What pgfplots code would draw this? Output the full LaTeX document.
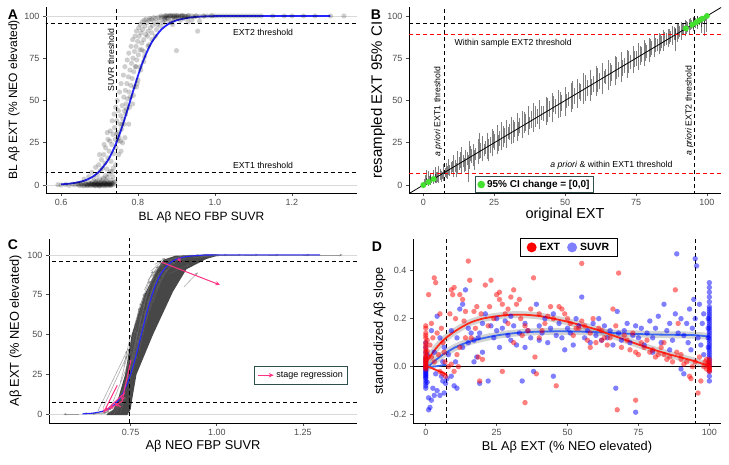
\documentclass[border=0pt]{standalone}
\usepackage{pgfplots}
\pgfplotsset{compat=1.18}
\usepackage{fontspec}
\setmainfont{Liberation Sans}
\usetikzlibrary{arrows.meta}
\definecolor{tickgray}{HTML}{4D4D4D}
\definecolor{pinkc}{HTML}{FF3384}
\definecolor{greenc}{HTML}{44E030}
\definecolor{slate}{HTML}{2F4F4F}
\definecolor{ggblue}{HTML}{2626FF}
\definecolor{dblue}{HTML}{3A66F0}
\definecolor{dred}{HTML}{FF2A1A}
\tikzset{
  dashl/.style={black, line width=0.8pt, dash pattern=on 4pt off 3pt},
  ann/.style={font=\fontsize{8.7}{10}\selectfont},
}
\pgfplotsset{
  gg/.style={
    scale only axis, anchor=south west,
    axis lines*=left,
    axis line style={black, line width=0.8pt},
    tick align=outside, major tick length=3pt,
    every tick/.style={tickgray, line width=0.6pt},
    tick label style={font=\fontsize{9}{10}\selectfont, text=tickgray},
    /pgf/number format/assume math mode=true,
    xlabel style={at={([yshift=-24pt]axis description cs:0.5,0)}, anchor=center},
    ylabel style={at={([xshift=-32pt]axis description cs:0,0.5)}, anchor=center},
  },
}
\begin{document}
\begin{tikzpicture}
\useasboundingbox (0,0) rectangle (729pt,464pt);
% ---------------- Panel A ----------------
\begin{axis}[gg, at={(46pt,271pt)}, width=311pt, height=186pt,
  xmin=0.561, xmax=1.369, ymin=-4.7, ymax=105.3,
  xtick={0.6,0.8,1.0,1.2}, xticklabels={0.6,0.8,1.0,1.2},
  ytick={0,25,50,75,100}, yticklabels={0,25,50,75,100},
  label style={font=\fontsize{12}{14}\selectfont},
  xlabel={BL Aβ NEO FBP SUVR}, ylabel={BL Aβ EXT (\% NEO elevated)}]
\addplot[gray!30, line width=0.6pt] coordinates {(0.5,0) (1.4,0)};
\addplot[gray!30, line width=0.6pt] coordinates {(0.5,100) (1.4,100)};
\addplot[only marks, mark=*, mark size=2.6pt, mark options={draw opacity=0, fill=black, fill opacity=0.19}]
 table[row sep=\\] {x y\\
0.592 0.2\\ 0.600 0.0\\ 0.612 0.3\\ 0.621 -0.2\\ 0.630 0.5\\ 0.636 0.1\\ 0.642 0.8\\ 0.648 -0.3\\ 0.652 0.4\\ 0.657 1.2\\
0.661 0.0\\ 0.665 0.6\\ 0.668 -0.4\\ 0.671 1.5\\ 0.674 0.2\\ 0.677 0.9\\ 0.680 -0.1\\ 0.682 2.0\\ 0.685 0.4\\ 0.688 1.1\\
0.690 -0.3\\ 0.693 0.7\\ 0.695 2.5\\ 0.698 0.1\\ 0.700 1.3\\ 0.703 -0.2\\ 0.705 0.6\\ 0.708 3.0\\ 0.710 0.2\\ 0.712 1.0\\
0.715 -0.4\\ 0.717 0.5\\ 0.720 1.8\\ 0.722 0.0\\ 0.725 0.8\\ 0.728 -0.2\\ 0.731 0.4\\ 0.734 1.2\\ 0.680 0.5\\ 0.695 0.0\\
0.660 -0.5\\ 0.700 -0.6\\ 0.715 0.9\\ 0.726 0.3\\ 0.705 1.8\\ 0.718 2.6\\ 0.686 -0.2\\ 0.729 1.6\\
0.645 0.3\\ 0.650 1.0\\ 0.655 -0.2\\ 0.663 0.8\\ 0.667 0.3\\ 0.670 -0.1\\ 0.673 0.6\\ 0.676 -0.3\\ 0.679 1.0\\ 0.683 0.2\\
0.687 0.6\\ 0.689 -0.4\\ 0.691 1.4\\ 0.694 0.3\\ 0.697 0.9\\ 0.699 -0.2\\ 0.702 0.5\\ 0.704 1.1\\ 0.707 0.0\\ 0.709 0.8\\
0.711 -0.3\\ 0.713 1.5\\ 0.716 0.2\\ 0.719 0.7\\ 0.721 -0.2\\ 0.723 1.2\\ 0.727 0.5\\ 0.730 -0.1\\ 0.732 0.9\\ 0.736 0.2\\
0.738 1.5\\ 0.690 2.0\\ 0.700 3.5\\ 0.710 4.0\\ 0.720 4.5\\ 0.730 3.0\\ 0.715 5.5\\ 0.725 6.5\\ 0.740 2.0\\ 0.733 8.0\\
0.660 3.5\\ 0.672 5.0\\ 0.680 7.5\\ 0.686 4.0\\ 0.690 10.5\\ 0.694 6.0\\ 0.698 12.0\\ 0.702 8.5\\ 0.705 15.0\\ 0.708 10.0\\
0.711 18.0\\ 0.714 13.0\\ 0.716 22.0\\ 0.719 9.5\\ 0.720 31.0\\ 0.722 16.0\\ 0.725 20.0\\ 0.727 26.0\\ 0.730 14.0\\ 0.732 24.0\\
0.735 30.0\\ 0.737 18.5\\ 0.739 34.0\\ 0.741 27.0\\ 0.743 22.0\\ 0.745 38.0\\ 0.747 31.0\\ 0.749 44.0\\ 0.751 28.0\\ 0.753 36.0\\
0.755 41.0\\ 0.757 33.0\\ 0.759 47.0\\ 0.761 39.0\\ 0.763 52.0\\ 0.765 44.0\\ 0.767 56.0\\ 0.769 48.0\\ 0.771 60.0\\ 0.773 51.0\\
0.775 64.0\\ 0.777 55.0\\ 0.779 68.0\\ 0.781 59.0\\ 0.783 72.0\\ 0.785 63.0\\ 0.787 75.0\\ 0.789 67.0\\ 0.791 79.0\\ 0.793 70.0\\
0.795 82.0\\ 0.797 74.0\\ 0.799 85.0\\ 0.801 77.0\\ 0.803 88.0\\ 0.805 80.0\\ 0.808 90.0\\ 0.810 84.0\\ 0.812 92.0\\ 0.815 86.0\\
0.818 94.0\\ 0.820 89.0\\ 0.823 96.0\\ 0.826 91.0\\ 0.829 97.5\\ 0.832 93.0\\ 0.835 98.0\\ 0.838 94.5\\ 0.842 96.5\\ 0.846 98.5\\
0.850 95.0\\ 0.855 97.0\\ 0.860 99.0\\ 0.865 96.0\\ 0.870 98.0\\ 0.880 97.0\\ 0.900 79.5\\ 0.890 95.0\\ 0.910 97.5\\ 0.930 96.5\\
0.955 91.0\\ 0.960 97.0\\ 0.845 88.0\\ 0.828 83.0\\ 0.815 73.0\\ 0.800 62.0\\ 0.790 58.0\\ 0.760 25.0\\ 0.750 18.0\\ 0.728 8.0\\
0.735 5.0\\ 0.770 45.0\\ 0.780 52.0\\ 0.795 70.0\\ 0.810 80.0\\ 0.825 88.0\\ 0.745 30.0\\ 0.755 26.0\\ 0.764 36.0\\
0.700 18.0\\ 0.712 24.0\\ 0.722 27.0\\ 0.728 32.0\\ 0.733 38.0\\ 0.738 42.0\\ 0.742 46.0\\ 0.746 50.0\\ 0.748 26.0\\ 0.752 55.0\\
0.756 60.0\\ 0.758 36.0\\ 0.762 65.0\\ 0.766 70.0\\ 0.768 42.0\\ 0.772 74.0\\ 0.776 78.0\\ 0.778 46.0\\ 0.782 82.0\\ 0.786 86.0\\
0.788 53.0\\ 0.792 88.0\\ 0.796 91.0\\ 0.798 60.0\\ 0.802 93.0\\ 0.806 95.0\\ 0.807 68.0\\ 0.811 96.5\\ 0.816 97.5\\ 0.817 76.0\\
0.821 98.0\\ 0.826 82.0\\ 0.831 98.5\\ 0.836 86.0\\ 0.841 99.0\\ 0.848 92.0\\ 0.853 99.3\\ 0.858 94.0\\ 0.868 97.5\\ 0.878 98.5\\
0.886 96.0\\ 0.895 98.0\\ 0.920 98.5\\ 0.940 97.5\\ 0.742 12.0\\ 0.736 10.0\\ 0.756 20.0\\ 0.766 28.0\\ 0.776 36.0\\ 0.786 48.0\\
0.796 58.0\\ 0.806 70.0\\ 0.816 79.0\\ 0.836 90.0\\
0.860 100\\ 0.865 99.5\\ 0.870 100\\ 0.875 100.2\\ 0.880 99.8\\ 0.885 100\\ 0.890 100\\ 0.895 99.6\\ 0.900 100\\ 0.905 100\\
0.910 99.9\\ 0.915 100\\ 0.920 100\\ 0.925 99.7\\ 0.930 100\\ 0.940 100\\ 0.950 100\\ 0.960 99.8\\ 0.970 100\\ 0.980 100\\
0.990 100\\ 1.000 100\\ 1.010 100\\ 1.020 100\\ 1.040 100\\ 1.060 100\\ 1.080 100\\ 1.100 100\\ 1.120 100\\ 1.150 100\\
1.180 100\\ 1.200 100\\ 1.230 100\\ 1.260 100\\ 1.300 100\\ 1.335 100\\ 0.870 98.8\\ 0.890 98.5\\ 0.905 99.0\\ 0.930 99.2\\
0.875 99.0\\ 0.885 100.3\\ 0.895 100.4\\ 0.900 99.2\\ 0.915 100.3\\ 0.945 99.5\\
0.872 100\\ 0.882 100\\ 0.892 99.7\\ 0.902 100.2\\ 0.912 100\\ 0.922 99.8\\ 0.932 100.3\\ 0.952 100\\ 0.972 99.9\\ 0.992 100.2\\
1.030 100\\ 1.050 100\\ 1.070 100\\ 1.090 100\\ 1.110 100\\
};
\addplot[dashl] coordinates {(0.5,95.5) (1.4,95.5)};
\addplot[dashl] coordinates {(0.5,7.3) (1.4,7.3)};
\addplot[dashl] coordinates {(0.745,-10) (0.745,110)};
\addplot[ggblue, line width=1.8pt, smooth] coordinates {
(0.60,0.43) (0.62,0.78) (0.64,1.42) (0.66,2.56) (0.68,4.6) (0.70,8.2) (0.72,14.0) (0.73,18.0) (0.74,23.0)
(0.75,28.7) (0.76,35.3) (0.77,42.5) (0.78,50) (0.79,57.5) (0.80,64.7) (0.81,71.3) (0.82,77.0) (0.83,82.0)
(0.84,86.0) (0.86,91.8) (0.88,95.4) (0.90,97.4) (0.93,98.9) (0.96,99.6) (1.0,99.9) (1.1,100) (1.3,100)};
\node[ann] at (axis cs:1.125,90.1) {EXT2 threshold};
\node[ann] at (axis cs:1.125,11.8) {EXT1 threshold};
\node[ann, rotate=90] at (axis cs:0.730,74) {SUVR threshold};
\end{axis}
% ---------------- Panel B ----------------
\begin{axis}[gg, at={(409pt,271pt)}, width=312pt, height=186pt,
  xmin=-5.05, xmax=104.97, ymin=-4.7, ymax=105.3,
  xtick={0,25,50,75,100}, xticklabels={0,25,50,75,100},
  ytick={0,25,50,75,100}, yticklabels={0,25,50,75,100},
  xlabel style={font=\fontsize{14.5}{16}\selectfont, at={([yshift=-22pt]axis description cs:0.5,0)}},
  ylabel style={font=\fontsize{15}{17}\selectfont, at={([xshift=-31pt]axis description cs:0,0.5)}},
  xlabel={original EXT}, ylabel={resampled EXT 95\% CI},
  legend style={at={(axis cs:39.2,0.3)}, anchor=center, draw=slate, line width=1pt,
    font=\bfseries\fontsize{10}{11}\selectfont, inner sep=1.8pt},
  legend cell align=left]
\addplot[forget plot, black, opacity=0.5, line width=0.9pt, quiver={u=0, v=\thisrow{hi}-\thisrow{lo}}]
 table[x=x, y=lo, row sep=\\] {x lo hi\\
0.3 -0.5 3.5\\ 0.8 -0.3 6.0\\ 1.2 0.0 4.0\\ 1.7 -0.5 8.5\\ 2.1 0.5 5.5\\ 2.6 0.0 7.0\\ 3.0 1.0 4.5\\ 3.5 0.5 9.0\\
4.1 1.5 6.5\\ 4.6 1.0 8.0\\ 5.0 2.0 7.5\\ 5.5 1.5 11.0\\ 6.0 3.0 9.5\\ 6.6 3.5 8.0\\ 7.1 2.5 12.5\\ 7.7 5.0 10.0\\
8.2 4.0 13.0\\ 8.8 6.0 15.5\\ 9.3 5.5 12.0\\ 9.9 7.0 13.5\\
10.5 5.0 17.5\\ 11.2 8.0 15.0\\ 11.9 6.5 20.0\\ 12.6 9.0 16.5\\ 13.3 7.0 22.5\\ 14.0 10.5 18.0\\ 14.8 8.5 21.0\\
15.5 12.0 19.5\\ 15.8 2.0 18.0\\ 16.2 9.5 26.0\\ 17.0 13.0 21.5\\ 17.8 11.0 24.0\\ 18.5 15.0 22.0\\ 19.3 12.5 27.5\\
20.1 16.0 25.0\\ 21.0 14.0 29.0\\ 21.8 18.5 26.0\\ 22.6 15.5 31.0\\ 23.5 19.0 28.5\\ 24.3 17.0 33.0\\ 25.1 21.0 30.0\\
26.0 18.5 35.5\\ 26.8 23.0 32.0\\ 27.7 20.5 37.0\\ 28.5 25.0 33.5\\ 29.4 22.0 38.5\\ 30.3 26.5 36.0\\ 31.2 24.0 40.0\\
32.2 28.5 37.5\\ 33.1 26.0 42.5\\ 34.0 30.5 39.5\\ 35.0 28.0 44.0\\ 36.0 32.0 42.0\\ 37.0 29.5 46.5\\ 38.0 34.0 43.5\\
39.0 31.5 48.5\\ 40.1 36.0 45.0\\ 41.1 33.0 50.5\\ 42.2 38.0 47.0\\ 43.3 35.5 52.0\\ 44.4 40.0 49.5\\ 45.5 37.0 54.5\\
46.6 42.0 51.0\\ 47.7 39.5 56.5\\ 48.8 44.0 53.5\\ 50.0 41.0 58.0\\ 51.1 46.5 55.0\\ 52.2 43.0 60.5\\ 53.3 48.0 57.5\\
54.4 45.5 63.0\\ 55.5 50.0 59.5\\ 56.6 48.0 66.0\\ 57.7 52.5 62.0\\ 58.8 50.0 68.0\\ 59.9 55.0 64.5\\ 61.0 52.5 70.5\\
62.1 57.0 66.5\\ 63.2 54.0 72.0\\ 64.3 59.5 68.5\\ 65.4 56.5 74.0\\ 66.5 61.5 71.0\\ 67.6 59.0 76.5\\ 68.7 64.0 73.0\\
69.8 61.0 78.5\\ 70.9 66.0 75.0\\ 72.0 63.5 80.0\\ 73.0 68.5 77.0\\ 74.0 66.0 82.5\\ 75.0 70.5 79.0\\ 76.0 68.0 84.0\\
77.0 72.5 81.5\\ 77.9 70.5 85.5\\ 78.8 75.0 83.0\\ 79.7 73.0 87.0\\ 80.6 77.0 85.0\\ 81.5 75.5 88.5\\ 82.4 79.0 86.5\\
83.2 77.5 90.0\\ 84.0 81.0 88.0\\ 84.8 79.5 91.5\\ 85.6 83.0 90.0\\ 86.4 81.5 92.5\\ 87.2 84.5 91.0\\ 88.0 83.0 94.0\\
88.8 86.0 93.0\\ 89.0 79.5 92.0\\ 89.5 84.5 95.5\\ 90.2 87.5 94.0\\ 90.9 86.0 96.5\\ 91.6 89.0 95.0\\ 92.3 88.0 97.5\\
93.0 90.5 96.5\\ 93.7 89.5 98.0\\ 94.4 92.0 97.5\\ 95.1 91.0 99.0\\ 95.8 93.0 98.5\\ 96.5 92.5 100.0\\ 97.2 94.5 99.5\\
97.9 90.0 100.0\\ 98.6 95.5 100.0\\ 99.3 96.0 100.0\\ 99.0 88.0 100.0\\
1.0 0.0 9.0\\ 2.4 0.5 6.0\\ 4.4 2.0 10.5\\ 6.3 2.0 8.5\\ 8.5 3.5 11.0\\ 10.2 7.5 14.5\\ 11.6 4.5 13.0\\ 13.0 10.0 19.5\\
14.4 7.5 16.0\\ 16.6 14.0 23.0\\ 18.2 9.0 20.5\\ 19.7 15.5 30.5\\ 21.4 17.0 24.5\\ 23.0 14.0 27.0\\ 24.7 22.0 32.0\\
26.4 20.0 29.5\\ 28.1 22.5 35.0\\ 29.9 27.5 34.5\\ 31.7 25.0 38.5\\ 33.6 29.0 37.0\\ 35.5 30.5 43.0\\ 37.5 33.0 40.5\\
39.5 34.5 47.0\\ 41.6 38.5 46.5\\ 43.8 37.0 51.5\\ 46.0 43.0 52.5\\ 48.2 40.5 55.0\\ 50.5 45.5 54.0\\ 52.7 45.0 61.5\\
54.9 51.0 60.5\\ 57.1 49.5 65.0\\ 59.3 53.5 62.5\\ 61.5 55.0 69.0\\ 63.7 60.5 67.5\\ 65.9 58.5 72.0\\ 68.1 63.0 75.5\\
70.3 64.5 74.0\\ 72.5 66.0 79.5\\ 74.5 70.0 79.0\\ 76.5 71.0 82.5\\ 78.3 73.5 84.0\\ 80.1 75.5 86.5\\ 81.9 78.5 87.0\\
83.6 79.0 89.5\\ 85.2 82.0 90.5\\ 86.8 83.5 92.5\\ 88.4 85.5 93.5\\ 89.9 86.5 95.0\\ 91.3 88.5 96.0\\ 92.7 89.5 97.0\\
94.1 91.5 98.5\\ 95.4 92.5 99.5\\ 96.8 94.0 100.0\\ 98.2 93.5 100.0\\ 99.6 97.0 100.0\\ 99.8 90.5 100.0\\
};
\addplot[forget plot, black, line width=0.8pt] coordinates {(-6,-6) (106,106)};
\addplot[forget plot, dashl] coordinates {(-10,95.6) (110,95.6)};
\addplot[forget plot, red, line width=0.8pt, dash pattern=on 4pt off 3pt] coordinates {(-10,89.2) (110,89.2)};
\addplot[forget plot, red, line width=0.8pt, dash pattern=on 4pt off 3pt] coordinates {(-10,7.0) (110,7.0)};
\addplot[forget plot, dashl] coordinates {(7.3,-10) (7.3,110)};
\addplot[forget plot, dashl] coordinates {(95.5,-10) (95.5,110)};
\addplot[only marks, mark=*, mark size=3pt, mark options={draw opacity=0, fill=greenc},
  legend image post style={mark size=3.8pt}] coordinates {
(0,0) (1.8,1.8) (3.6,3.6) (92.6,92.6) (94.8,94.8) (96.2,96.2) (97.3,97.3) (98.4,98.4) (100,100)};
\addlegendentry{95\% CI change = [0,0]}
\node[ann, anchor=west] at (axis cs:9.8,84) {Within sample EXT2 threshold};
\node[ann, anchor=east] at (axis cs:89.1,11.8) {\textit{a priori} \& within EXT1 threshold};
\node[ann, rotate=90] at (axis cs:5.2,43.4) {\textit{a priori} EXT1 threshold};
\node[ann, rotate=90] at (axis cs:93.8,44) {\textit{a priori} EXT2 threshold};
\end{axis}
% ---------------- Panel C ----------------
\begin{axis}[gg, at={(49pt,41pt)}, width=308pt, height=184pt,
  xmin=0.513, xmax=1.407, ymin=-5.5, ymax=110,
  xtick={0.75,1.00,1.25}, xticklabels={0.75,1.00,1.25},
  ytick={0,25,50,75,100}, yticklabels={0,25,50,75,100},
  label style={font=\fontsize{12.8}{14}\selectfont},
  xlabel style={at={([yshift=-23.5pt]axis description cs:0.5,0)}},
  ylabel style={at={([xshift=-33.5pt]axis description cs:0,0.5)}},
  xlabel={Aβ NEO FBP SUVR}, ylabel={Aβ EXT (\% NEO elevated)},
  legend style={at={(axis cs:1.245,24.5)}, anchor=center, draw=slate, line width=1pt,
    font=\fontsize{9}{10}\selectfont, inner sep=3pt}]
\addplot[forget plot, gray!30, line width=0.6pt] coordinates {(0.5,0) (1.45,0)};
\addplot[forget plot, gray!30, line width=0.6pt] coordinates {(0.5,100) (1.45,100)};
\addplot[forget plot, fill=black!72, draw=none] coordinates {
(0.68,0) (0.70,3) (0.714,10) (0.734,25) (0.753,50) (0.79,75) (0.825,90) (0.845,97) (0.88,99.5) (1.0,100.4)
(1.0,99.3) (0.97,97.5) (0.912,91) (0.873,77) (0.815,50) (0.767,25) (0.755,10) (0.75,3) (0.74,-0.6) (0.68,-0.6)} --cycle;
\addplot[forget plot, draw=black!60, opacity=0.55, line width=0.6pt, -{Stealth[length=3pt,width=2.6pt]},
  quiver={u=\thisrow{u}, v=\thisrow{v}}] table[row sep=\\] {x y u v\\
0.600 0.0 -0.045 0.0\\ 0.620 0.5 0.030 0.0\\ 0.640 0.0 0.040 1.0\\ 0.655 1.0 0.035 2.5\\ 0.665 0.0 0.030 4.0\\
0.675 0.5 0.035 6.0\\ 0.680 2.0 0.040 9.0\\ 0.690 1.0 0.030 5.0\\ 0.695 3.0 0.035 12.0\\ 0.700 0.0 0.025 8.0\\
0.705 4.0 0.030 15.0\\ 0.710 2.0 0.020 6.0\\ 0.715 6.0 0.030 18.0\\ 0.720 1.0 0.015 10.0\\ 0.655 2.0 0.085 38.0\\
0.670 4.0 0.070 33.0\\ 0.690 3.0 0.055 30.0\\ 0.630 0.0 0.060 1.5\\ 0.645 0.5 -0.030 0.0\\
0.725 12 0.025 16\\ 0.730 16 0.030 22\\ 0.735 18 0.020 17\\ 0.740 22 0.030 25\\ 0.743 17 0.025 20\\ 0.745 28 0.025 24\\
0.748 24 0.030 26\\ 0.750 32 0.020 20\\ 0.752 27 0.030 30\\ 0.755 36 0.025 25\\ 0.757 30 0.030 28\\ 0.760 40 0.020 22\\
0.762 34 0.030 30\\ 0.765 45 0.025 24\\ 0.767 38 0.028 28\\ 0.770 50 0.020 20\\ 0.772 44 0.030 26\\ 0.775 55 0.022 20\\
0.777 48 0.025 24\\ 0.780 60 0.020 18\\ 0.782 53 0.028 22\\ 0.785 65 0.020 16\\ 0.787 58 0.025 20\\ 0.790 70 0.020 14\\
0.792 63 0.025 18\\ 0.795 74 0.022 12\\ 0.797 68 0.025 15\\ 0.800 78 0.020 10\\ 0.802 72 0.025 14\\ 0.805 82 0.020 8\\
0.808 76 0.025 12\\ 0.810 86 0.025 7\\ 0.813 81 0.030 9\\ 0.816 89 0.030 5\\ 0.820 85 0.030 7\\ 0.825 92 0.030 4\\
0.830 88 0.035 6\\ 0.835 94 0.035 3\\ 0.840 91 0.040 5\\ 0.845 96 0.040 2\\ 0.850 94 0.045 3.5\\ 0.855 97 0.045 2\\
0.860 96 0.050 2.5\\ 0.870 98 0.050 1.5\\ 0.880 98.5 0.060 1\\ 0.890 99 0.060 0.8\\ 0.900 99.5 0.070 0.5\\
0.920 99.8 0.060 0.2\\ 0.950 100 0.080 0\\ 0.980 100 0.090 0\\ 1.020 100 0.100 0\\ 1.080 100 0.100 0\\
1.150 100 0.120 0\\ 1.250 100 0.115 0\\ 0.905 80 0.040 9\\ 0.860 88 0.060 6\\ 0.755 38 -0.015 3\\
0.735 25 0.03 28\\ 0.745 20 0.025 30\\ 0.755 45 0.02 22\\ 0.765 52 0.025 22\\ 0.775 40 0.03 32\\ 0.785 50 0.03 28\\
0.795 58 0.03 25\\ 0.805 65 0.03 20\\ 0.815 70 0.03 18\\ 0.825 78 0.03 13\\ 0.835 84 0.035 10\\ 0.845 88 0.035 8\\
0.72 20 0.03 25\\ 0.73 30 0.02 20\\ 0.76 55 0.02 15\\ 0.77 62 0.02 14\\ 0.78 70 0.025 14\\ 0.79 78 0.025 12\\
0.80 84 0.03 9\\ 0.81 90 0.03 6\\ 0.82 94 0.03 4\\ 0.89 97 0.07 2\\ 0.93 98 0.06 1.5\\ 0.96 99 0.05 0.8\\
};
\addplot[forget plot, dashl] coordinates {(0.4,95.9) (1.5,95.9)};
\addplot[forget plot, dashl] coordinates {(0.4,7.3) (1.5,7.3)};
\addplot[forget plot, dashl] coordinates {(0.745,-10) (0.745,120)};
\addplot[forget plot, ggblue, line width=1.1pt, smooth] coordinates {
(0.61,0.24) (0.64,0.69) (0.67,1.96) (0.69,3.9) (0.71,7.6) (0.72,10.4) (0.73,14.2) (0.74,19.1) (0.75,25.1)
(0.76,32.3) (0.77,40.4) (0.78,49.1) (0.79,57.9) (0.80,66.1) (0.81,73.5) (0.82,79.8) (0.83,84.9) (0.84,88.9)
(0.86,94.2) (0.88,97.0) (0.91,98.9) (0.95,99.7) (1.0,100) (1.3,100)};
\addplot[forget plot, pinkc, line width=1pt, -{Stealth[length=4.5pt,width=4pt]},
  quiver={u=\thisrow{u}, v=\thisrow{v}}] table[row sep=\\] {x y u v\\
0.840 95.4 0.169 -14.2\\ 0.889 97.8 0.006 -2.4\\ 0.751 34.3 -0.026 -26.1\\ 0.711 18.2 -0.040 -17.4\\
0.733 13.4 -0.058 -11.5\\ 0.728 8.5 -0.040 -5.0\\ 0.722 4.5 -0.018 2.5\\
};
\addlegendimage{legend image code/.code={\draw[pinkc, line width=1.2pt, -{Stealth[length=5pt,width=4.5pt]}] (0cm,0cm) -- (0.55cm,0cm);}}
\addlegendentry{stage regression}
\end{axis}
% ---------------- Panel D ----------------
\begin{axis}[gg, at={(413pt,41pt)}, width=308pt, height=184pt,
  xmin=-4.5, xmax=104.1, ymin=-0.235, ymax=0.532,
  xtick={0,25,50,75,100}, xticklabels={0,25,50,75,100},
  ytick={-0.2,0,0.2,0.4}, yticklabels={-0.2,0.0,0.2,0.4},
  label style={font=\fontsize{12.8}{14}\selectfont},
  xlabel style={at={([yshift=-24pt]axis description cs:0.5,0)}},
  ylabel style={at={([xshift=-33.5pt]axis description cs:0,0.5)}},
  xlabel={BL Aβ EXT (\% NEO elevated)}, ylabel={standardized Aβ slope},
  legend columns=2,
  legend style={at={(axis cs:50.5,0.497)}, anchor=center, draw=black, line width=1pt,
    font=\bfseries\fontsize{10.5}{12}\selectfont, inner xsep=6pt, inner ysep=2.5pt,
    /tikz/every odd column/.append style={column sep=1pt},
    /tikz/every even column/.append style={column sep=5pt}}]
\addplot[forget plot, only marks, mark=*, mark size=2.7pt, mark options={draw opacity=0, fill=blue, fill opacity=0.5}]
 table[row sep=\\] {x y\\
0 -0.09\\ 0 -0.08\\ 0 -0.07\\ 0 -0.06\\ 0 -0.05\\ 0 -0.045\\ 0 -0.04\\ 0 -0.035\\ 0 -0.03\\ 0 -0.025\\ 0 -0.02\\
0 -0.015\\ 0 -0.01\\ 0 -0.005\\ 0 0.0\\ 0 0.01\\ 0 0.02\\ 0 0.03\\ 0 0.04\\ 0 0.06\\ 0 0.08\\ 0 0.10\\ 0.5 -0.065\\ 0.5 0.05\\
1 -0.18\\ 1.5 -0.17\\ 2 -0.14\\ 3 -0.12\\ 2.5 -0.09\\ 4 -0.10\\ 5 -0.12\\ 5.5 -0.04\\ 6 -0.06\\ 4 0.21\\ 5 0.12\\ 3 0.06\\
6.5 0.08\\ 1 -0.13\\ 7 -0.07\\ 6 0.02\\ 2 0.15\\ 3.5 -0.03\\ 7.5 -0.05\\ 6.5 -0.11\\
8 0.05\\ 9 -0.04\\ 10 -0.08\\ 10.5 0.02\\ 11 -0.09\\ 12 0.24\\ 13 0.26\\ 14 0.32\\ 15 0.1\\ 16 0.14\\ 17 0.02\\ 18 0.04\\
18.5 0.12\\ 19 -0.07\\ 20 0.18\\ 9 0.15\\ 11 0.12\\ 13 0.08\\ 15 0.16\\ 17 0.11\\ 19 0.14\\ 20 0.06\\
21 0.22\\ 22 -0.06\\ 23 0.17\\ 24 0.12\\ 25 0.15\\ 26 0.08\\ 27 0.16\\ 28 0.19\\ 29 0.13\\ 30 0.11\\ 31 0.17\\ 32 0.09\\
33 0.14\\ 34 -0.06\\ 35 0.18\\ 36 0.15\\ 37 0.12\\ 38 -0.02\\ 39 0.26\\ 40 0.17\\ 41 0.14\\ 42 0.2\\ 43 0.1\\ 44 0.16\\
45 -0.04\\ 45 0.22\\ 25 0.20\\ 30 0.21\\ 35 0.08\\ 40 0.11\\
46 0.13\\ 47 0.18\\ 48 0.12\\ 49 0.07\\ 50 0.16\\ 51 0.14\\ 52 0.09\\ 53 0.2\\ 54 0.17\\ 55 0.29\\ 56 0.12\\ 57 0.15\\
58 0.1\\ 59 0.18\\ 60 0.13\\ 61 0.2\\ 62 0.11\\ 63 0.17\\ 64 0.12\\ 65 0.15\\ 66 0.09\\ 67 -0.09\\ 67.5 0.23\\ 68 0.14\\
69 0.11\\ 70 0.15\\ 71 0.18\\ 72 0.1\\ 73 0.13\\ 74 -0.19\\ 74 0.17\\ 75 0.12\\
76 0.16\\ 77 0.09\\ 78 0.14\\ 79 0.19\\ 80 0.12\\ 81 0.16\\ 82 0.21\\ 83 0.1\\ 84 0.26\\ 85 0.15\\ 86 0.18\\ 87 0.11\\
88 0.22\\ 88.5 0.47\\ 89 0.14\\ 90 -0.01\\ 90 0.2\\ 91 0.13\\ 92 0.18\\ 92.5 0.1\\ 93 0.24\\ 93.5 0.07\\ 94 0.16\\
94.5 0.28\\ 95 0.2\\ 95 0.45\\ 95.5 0.42\\ 96 0.12\\ 96.5 0.26\\ 97 0.09\\ 97.5 0.18\\ 98 0.05\\ 98 0.22\\ 91 -0.03\\
86 0.07\\ 80 0.06\\
100 0.35\\ 100 0.33\\ 100 0.31\\ 100 0.29\\ 100 0.27\\ 100 0.25\\ 100 0.24\\ 100 0.23\\ 100 0.22\\ 100 0.21\\ 100 0.20\\
100 0.19\\ 100 0.18\\ 100 0.17\\ 100 0.16\\ 100 0.15\\ 100 0.14\\ 100 0.13\\ 100 0.12\\ 100 0.11\\ 100 0.10\\ 100 0.09\\
100 0.08\\ 100 0.07\\ 100 0.06\\ 100 0.05\\ 100 0.04\\ 100 0.03\\ 100 0.02\\ 100 0.01\\ 100 0.0\\ 100 -0.02\\ 100 -0.04\\
100 -0.06\\ 99.6 0.16\\ 99.6 0.12\\ 99.6 0.20\\ 99.6 0.08\\
};
\addplot[forget plot, only marks, mark=*, mark size=2.7pt, mark options={draw opacity=0, fill=red, fill opacity=0.5}]
 table[row sep=\\] {x y\\
0 0.17\\ 0 0.16\\ 0 0.14\\ 0 0.13\\ 0 0.12\\ 0 0.10\\ 0 0.09\\ 0 0.08\\ 0 0.07\\ 0 0.06\\ 0 0.05\\ 0 0.04\\ 0 0.035\\
0 0.03\\ 0 0.025\\ 0 0.02\\ 0 0.015\\ 0 0.01\\ 0 0.005\\ 0 0.0\\ 0 -0.005\\ 0 -0.01\\ 0.5 0.045\\ 0.5 0.065\\ 0.5 0.11\\
1 0.30\\ 2 0.18\\ 3 0.37\\ 3.5 0.35\\ 2.5 0.12\\ 4 0.14\\ 5 0.22\\ 5.5 0.16\\ 6 0.10\\ 6.5 0.06\\ 4.5 0.05\\ 3 0.02\\
5 -0.02\\ 6 -0.03\\ 7 -0.04\\ 1.5 0.09\\ 2 0.04\\ 6.8 0.02\\
8.5 0.22\\ 9 0.32\\ 9.5 0.30\\ 10 0.33\\ 10.5 0.20\\ 11 0.05\\ 11.5 0.0\\ 12 0.30\\ 13 0.28\\ 13.5 0.19\\ 14 0.23\\
15 0.44\\ 15.5 0.36\\ 16 0.12\\ 17 0.23\\ 18 0.25\\ 18.5 0.04\\ 19 -0.06\\ 8 0.0\\ 9 0.01\\ 10 -0.02\\ 12 0.08\\ 14 0.12\\
17.5 0.16\\ 19.5 0.22\\ 20 0.03\\
21 0.34\\ 22 0.17\\ 23 0.36\\ 24 0.20\\ 25 0.30\\ 26 0.28\\ 27 -0.02\\ 27 0.26\\ 28 0.22\\ 29 0.24\\ 30 0.29\\ 31 0.32\\
32 0.26\\ 33 0.28\\ 33.5 0.20\\ 34 0.13\\ 35 -0.15\\ 36 0.15\\ 37 0.24\\ 38 0.37\\ 38.5 0.04\\ 39 -0.03\\ 40 0.22\\
41 0.15\\ 42 0.18\\ 43 0.21\\ 44 0.25\\ 45 0.20\\ 22.5 0.25\\ 26 0.31\\ 29 0.18\\ 31 0.10\\ 35 0.17\\ 40 0.12\\
46 -0.08\\ 47 0.25\\ 48 0.24\\ 50 0.20\\ 51 0.18\\ 52 0.13\\ 53 0.16\\ 55 0.43\\ 55 0.19\\ 56 0.17\\ 57 0.11\\ 58 0.14\\
59 0.20\\ 60 0.10\\ 61 0.16\\ 62 0.15\\ 63 0.12\\ 64 0.09\\ 65 0.12\\ 66 0.24\\ 67 0.17\\ 67.5 -0.18\\ 68 0.39\\ 69 0.08\\
70 0.13\\ 71 0.11\\ 72 0.07\\ 73 0.14\\ 74 -0.14\\ 74 0.06\\ 75 0.05\\ 49 0.22\\ 54 0.16\\ 58 0.08\\ 62 0.11\\
76 0.10\\ 77 0.08\\ 78 0.11\\ 79 0.06\\ 80 0.07\\ 81 0.04\\ 82 0.05\\ 83 0.08\\ 84 0.05\\ 85 0.03\\ 86 0.04\\ 87 0.02\\
88 0.32\\ 88.5 0.06\\ 89 0.18\\ 90 0.03\\ 91 0.01\\ 92 0.02\\ 93 -0.04\\ 93.5 -0.05\\ 94 0.0\\ 95 0.02\\ 96 -0.11\\
97 -0.06\\ 96.5 0.04\\ 84 0.1\\ 90 0.05\\
100 0.02\\ 100 0.01\\ 100 0.0\\ 100 -0.005\\ 100 -0.01\\ 100 -0.015\\ 99.5 0.005\\ 99.5 0.015\\ 99 0.03\\ 99 -0.01\\
98.5 0.02\\ 98 0.0\\ 100 0.03\\ 100 -0.02\\
};
\addplot[forget plot, black, line width=0.8pt] coordinates {(-10,0) (110,0)};
\addplot[forget plot, dashl] coordinates {(7.3,-1) (7.3,1)};
\addplot[forget plot, dashl] coordinates {(95.2,-1) (95.2,1)};
\addplot[forget plot, gray, opacity=0.35, line width=7pt, smooth] coordinates {
(0,-0.01) (2,0.012) (4,0.032) (6,0.05) (8,0.064) (10,0.078) (13,0.094) (16,0.106) (20,0.118) (25,0.13) (30,0.138)
(35,0.143) (40,0.146) (45,0.147) (50,0.147) (55,0.146) (60,0.144) (65,0.141) (70,0.138) (75,0.136) (80,0.134)
(85,0.133) (90,0.132) (95,0.131) (100,0.125)};
\addplot[forget plot, gray, opacity=0.35, line width=7pt, smooth] coordinates {
(0,0.012) (2,0.05) (4,0.082) (6,0.108) (8,0.128) (10,0.145) (13,0.167) (16,0.185) (20,0.2) (25,0.21) (30,0.216)
(35,0.216) (40,0.211) (45,0.2) (50,0.187) (55,0.172) (60,0.155) (65,0.134) (70,0.113) (75,0.092) (80,0.072)
(85,0.054) (90,0.038) (95,0.022) (100,0.002)};
\addplot[forget plot, dblue, line width=1.8pt] coordinates {(0,-0.005) (7.3,0.008)};
\addplot[forget plot, dblue, line width=1.8pt, smooth] coordinates {
(0,-0.01) (2,0.012) (4,0.032) (6,0.05) (8,0.064) (10,0.078) (13,0.094) (16,0.106) (20,0.118) (25,0.13) (30,0.138)
(35,0.143) (40,0.146) (45,0.147) (50,0.147) (55,0.146) (60,0.144) (65,0.141) (70,0.138) (75,0.136) (80,0.134)
(85,0.133) (90,0.132) (95,0.131) (100,0.125)};
\addplot[forget plot, dred, line width=1.8pt] coordinates {(0,0.004) (7.3,-0.032)};
\addplot[forget plot, dred, line width=1.8pt, smooth] coordinates {
(0,0.012) (2,0.05) (4,0.082) (6,0.108) (8,0.128) (10,0.145) (13,0.167) (16,0.185) (20,0.2) (25,0.21) (30,0.216)
(35,0.216) (40,0.211) (45,0.2) (50,0.187) (55,0.172) (60,0.155) (65,0.134) (70,0.113) (75,0.092) (80,0.072)
(85,0.054) (90,0.038) (95,0.022) (100,0.002)};
\addlegendimage{only marks, mark=*, mark size=5pt, mark options={draw opacity=0, fill=red}}
\addlegendentry{EXT}
\addlegendimage{only marks, mark=*, mark size=5pt, mark options={draw opacity=0, fill=blue!50}}
\addlegendentry{SUVR}
\end{axis}
\node[font=\bfseries\fontsize{14}{14}\selectfont] at (13pt,449pt) {A};
\node[font=\bfseries\fontsize{14}{14}\selectfont] at (376pt,449pt) {B};
\node[font=\bfseries\fontsize{14}{14}\selectfont] at (13pt,219pt) {C};
\node[font=\bfseries\fontsize{14}{14}\selectfont] at (377pt,217pt) {D};
\end{tikzpicture}
\end{document}
